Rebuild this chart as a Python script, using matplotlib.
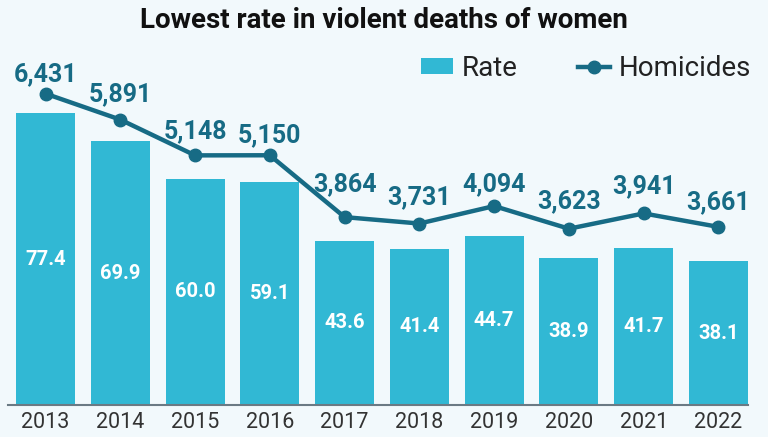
import matplotlib
matplotlib.use("Agg")
import matplotlib.pyplot as plt
from matplotlib.patches import Patch
from matplotlib.lines import Line2D

years = ["2013", "2014", "2015", "2016", "2017", "2018", "2019", "2020", "2021", "2022"]
rate = [77.4, 69.9, 60.0, 59.1, 43.6, 41.4, 44.7, 38.9, 41.7, 38.1]
homicides = [6431, 5891, 5148, 5150, 3864, 3731, 4094, 3623, 3941, 3661]

# label offsets above each marker (pixels), as placed in the original
label_dy_px = [12, 18, 17, 13, 26, 19, 15, 20, 20, 18]

BG = "#F2F9FC"
BAR = "#31B8D4"
LINE = "#176B85"

plt.rcParams["font.family"] = ["Roboto", "DejaVu Sans"]

W, H = 768, 437
fig = plt.figure(figsize=(W / 100, H / 100), dpi=100, facecolor=BG)
ax = fig.add_axes([8 / W, (H - 405) / H, (748 - 8) / W, (405 - 28) / H])
ax.set_facecolor(BG)

x = list(range(len(years)))
ax.bar(x, rate, width=0.79, color=BAR, zorder=2)
ax.set_xlim(-0.502, 9.395)
ax.set_ylim(0, 100)
for xi, v in zip(x, rate):
    ax.text(xi, v / 2, f"{v:.1f}", ha="center", va="center", color="white",
            fontsize=14.5, fontweight="bold", zorder=3)

ax.set_xticks(x)
ax.set_xticklabels(years, fontsize=15.5, color="#333333")
ax.tick_params(axis="x", length=0, pad=5)
ax.set_yticks([])
for s in ["top", "right", "left"]:
    ax.spines[s].set_visible(False)
ax.spines["bottom"].set_color("#6B7A84")
ax.spines["bottom"].set_linewidth(1.5)

ax2 = ax.twinx()
ax2.set_ylim(-42, 7796)
ax2.plot(x, homicides, color=LINE, lw=3.2, marker="o", ms=9, zorder=4)
for xi, v, dy in zip(x, homicides, label_dy_px):
    ax2.annotate(f"{v:,}", (xi, v), xytext=(0, dy * 0.72), textcoords="offset points",
                 ha="center", va="baseline", color=LINE, fontsize=18, fontweight="bold",
                 zorder=6)
ax2.set_yticks([])
for s in ["top", "right", "left", "bottom"]:
    ax2.spines[s].set_visible(False)

fig.text(0.5, (H - 21) / H, "Lowest rate in violent deaths of women", ha="center", va="center",
         fontsize=20, fontweight="bold", color="#111111")

handles = [Patch(facecolor=BAR, edgecolor="none"),
           Line2D([0], [0], color=LINE, lw=3.2, marker="o", ms=9)]
fig.legend(handles, ["Rate", "Homicides"], ncol=2, loc="center right",
           bbox_to_anchor=(751 / W, (H - 68) / H), frameon=False, fontsize=20,
           labelcolor="#222222", columnspacing=2.2, handlelength=1.15, handleheight=0.5,
           handletextpad=0.3, borderpad=0, borderaxespad=0)

fig.savefig("out.png", dpi=100, facecolor=BG)
